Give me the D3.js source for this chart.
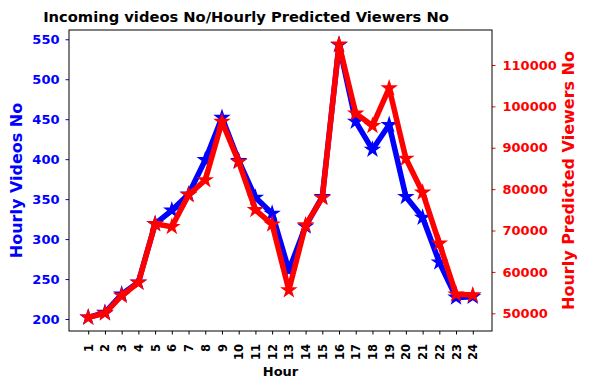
<!DOCTYPE html>
<html>
<head>
<meta charset="utf-8">
<script src="https://cdn.jsdelivr.net/npm/d3@7"></script>
<style>
  body { margin: 0; background: #fff; }
  text { font-family: "DejaVu Sans", sans-serif; font-weight: bold; }
</style>
</head>
<body>
<div id="chart"></div>
<script>
// hours 1..24
const hours = d3.range(1, 25);
const videos = [202, 208, 231, 246, 319, 336, 356, 399, 452, 398, 352, 332,
                261, 316, 353, 543, 447, 412, 443, 353, 327, 271, 227, 228];
const viewers = [49000, 50000, 54250, 57400, 71600, 70900, 78600, 82200, 96300, 86600, 75000, 71500,
                 55600, 71300, 77900, 115000, 98300, 95300, 104400, 87400, 79200, 66900, 54600, 54400];
const leftTicks = [200, 250, 300, 350, 400, 450, 500, 550];
const rightTicks = [50000, 60000, 70000, 80000, 90000, 100000, 110000];

const width = 590, height = 390;
const m = {left: 69, right: 492, top: 30, bottom: 331};

const svg = d3.select("#chart").append("svg")
    .attr("width", width)
    .attr("height", height);

const x = d3.scaleLinear().domain([-0.15, 25.15]).range([m.left, m.right]);
const yL = d3.scaleLinear().domain([185, 561.6]).range([m.bottom, m.top]);
const yR = d3.scaleLinear().domain([45725, 118450]).range([m.bottom, m.top]);

// x axis
const gx = svg.append("g")
    .attr("transform", `translate(0,${m.bottom})`)
    .call(d3.axisBottom(x).tickValues(hours).tickSize(3.5).tickPadding(3.5).tickFormat(d3.format("d")));
gx.select(".domain").remove();
gx.selectAll("text")
    .style("font-size", "11.5px")
    .attr("transform", "rotate(-90)")
    .attr("text-anchor", "end")
    .attr("dy", "0.35em")
    .attr("x", -13)
    .attr("y", 0);

// left axis
const gl = svg.append("g")
    .attr("transform", `translate(${m.left},0)`)
    .call(d3.axisLeft(yL).tickValues(leftTicks).tickSize(3.5).tickPadding(6));
gl.select(".domain").remove();
gl.selectAll("line").attr("stroke", "blue");
gl.selectAll("text").attr("fill", "blue").style("font-size", "13px");

// right axis
const gr = svg.append("g")
    .attr("transform", `translate(${m.right},0)`)
    .call(d3.axisRight(yR).tickValues(rightTicks).tickSize(3.5).tickPadding(7).tickFormat(d3.format("d")));
gr.select(".domain").remove();
gr.selectAll("line").attr("stroke", "red");
gr.selectAll("text").attr("fill", "red").style("font-size", "13px");

// frame
svg.append("rect")
    .attr("x", m.left).attr("y", m.top)
    .attr("width", m.right - m.left).attr("height", m.bottom - m.top)
    .attr("fill", "none").attr("stroke", "black").attr("stroke-width", 1);

function drawSeries(vals, y, color) {
    const line = d3.line().x((d, i) => x(hours[i])).y(d => y(d));
    svg.append("path")
        .datum(vals)
        .attr("d", line)
        .attr("fill", "none")
        .attr("stroke", color)
        .attr("stroke-width", 5.5)
        .attr("stroke-linejoin", "round");
    svg.append("g").selectAll("path")
        .data(vals)
        .join("path")
        .attr("d", d3.symbol().type(d3.symbolStar).size(95))
        .attr("transform", (d, i) => `translate(${x(hours[i])},${y(d)})`)
        .attr("fill", color);
}
drawSeries(videos, yL, "blue");
drawSeries(viewers, yR, "red");

// labels
svg.append("text")
    .attr("x", 246).attr("y", 22)
    .attr("text-anchor", "middle")
    .style("font-size", "14.7px")
    .text("Incoming videos No/Hourly Predicted Viewers No");

svg.append("text")
    .attr("x", (m.left + m.right) / 2).attr("y", 376)
    .attr("text-anchor", "middle")
    .style("font-size", "13px")
    .text("Hour");

svg.append("text")
    .attr("transform", `translate(22,${(m.top + m.bottom) / 2}) rotate(-90)`)
    .attr("text-anchor", "middle")
    .attr("fill", "blue")
    .style("font-size", "16px")
    .text("Hourly Videos No");

svg.append("text")
    .attr("transform", `translate(574,${(m.top + m.bottom) / 2}) rotate(-90)`)
    .attr("text-anchor", "middle")
    .attr("fill", "red")
    .style("font-size", "16px")
    .text("Hourly Predicted Viewers No");
</script>
</body>
</html>
